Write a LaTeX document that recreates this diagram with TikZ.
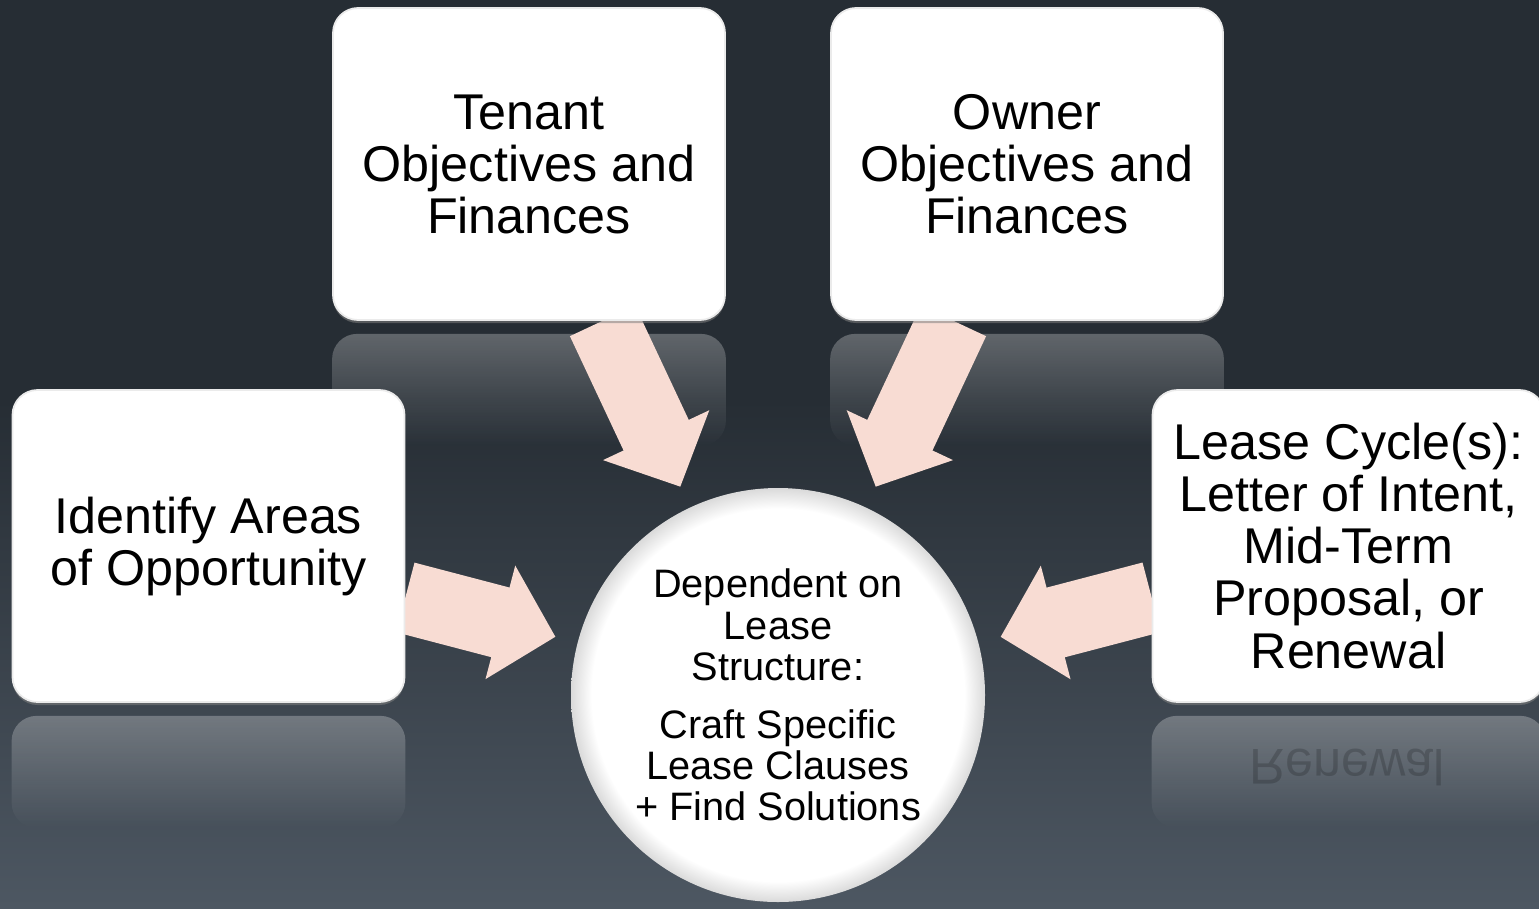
\documentclass[tikz,border=0pt]{standalone}
\usepackage{fontspec}
\setmainfont{Liberation Sans}
\usetikzlibrary{calc,arrows.meta,shadows,fadings}

\definecolor{bgtop}{HTML}{262D34}
\definecolor{bgbot}{HTML}{4D5762}
\definecolor{feedpink}{HTML}{F8DCD3}
\definecolor{rimgray}{HTML}{DADADA}

\pgfdeclarelayer{back}
\pgfdeclarelayer{mid}
\pgfsetlayers{back,mid,main}

\pgfdeclareverticalshading{backdrop}{100bp}{color(0bp)=(bgbot); color(25bp)=(bgbot); color(53bp)=(bgtop); color(100bp)=(bgtop)}
\pgfdeclareradialshading{hubshade}{\pgfpoint{0bp}{0bp}}{color(0bp)=(white); color(22.5bp)=(white); color(25bp)=(rimgray); color(50bp)=(rimgray)}

\tikzset{
  card/.style={rectangle, rounded corners=0.25cm, fill=white, draw=black!8, line width=0.5pt,
    minimum width=3.92cm, minimum height=3.12cm, inner sep=0pt, align=center,
    font=\fontsize{14.3}{14.8}\selectfont,
    drop shadow={opacity=0.55, shadow xshift=0pt, shadow yshift=-0.03cm}},
  hubcircle/.style={circle, minimum size=4.14cm, inner sep=0pt, shade, shading=hubshade,
    align=center, font=\fontsize{11.3}{11.7}\selectfont},
  mirror/.style={fill=white, fill opacity=0.27, path fading=south, rounded corners=0.25cm},
  feed/.style={feedpink, line width=7.2mm, -{Triangle[length=5.7mm, width=11.4mm]}},
}

\begin{document}
\begin{tikzpicture}
\useasboundingbox (0,0) rectangle (15.39,9.08);

\node[card] (tenant) at (5.29,7.44) {Tenant\\Objectives and\\Finances};
\node[card] (owner) at (10.27,7.44) {Owner\\Objectives and\\Finances};
\node[card] (identify) at (2.085,3.62) {Identify Areas\\of Opportunity};
\node[card] (cycle) at (13.485,3.62) {Lease Cycle(s):\\Letter of Intent,\\Mid-Term\\Proposal, or\\Renewal};
\node[hubcircle] (hub) at (7.78,2.13) {Dependent on\\Lease\\Structure:\\[0.17cm]Craft Specific\\Lease Clauses\\+ Find Solutions};

\begin{pgfonlayer}{back}
\shade[shading=backdrop] (0,0) rectangle (15.39,9.08);
\end{pgfonlayer}

\begin{pgfonlayer}{mid}
\foreach \n in {tenant,owner,identify,cycle}
  \fill[mirror] ($(\n.south west)+(0,-0.13)$) rectangle ($(\n.south east)+(0,-1.25)$);
\node[text opacity=0.18, font=\fontsize{14.3}{14.8}\selectfont] (cycle-echo) at (13.47,1.41) {\scalebox{1}[-1]{Renewal}};
\foreach \n in {tenant,owner,identify,cycle}
  \draw[feed] (\n) -- ($(hub)!2.3cm!(\n)$);
\end{pgfonlayer}
\end{tikzpicture}
\end{document}
